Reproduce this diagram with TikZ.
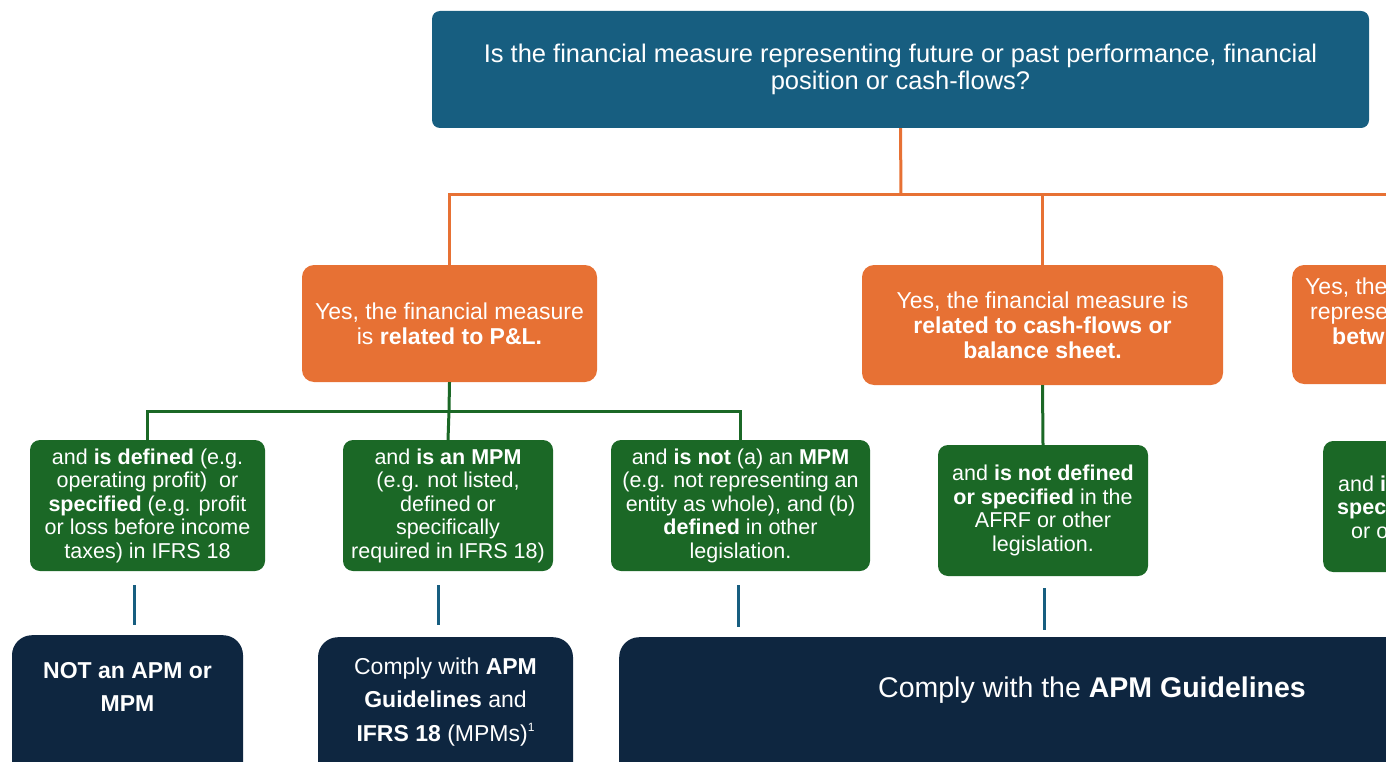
\documentclass[tikz,border=0pt]{standalone}
\usepackage{fontspec}
\setmainfont{Liberation Sans}
\definecolor{qblue}{RGB}{23,94,128}
\definecolor{yesorange}{RGB}{231,113,52}
\definecolor{andgreen}{RGB}{27,104,38}
\definecolor{endnavy}{RGB}{14,38,64}
\tikzset{
  qbox/.style={fill=qblue,rounded corners=8pt,text=white,align=center,inner sep=0pt,font=\fontsize{25.5}{27}\selectfont},
  yesbox/.style={fill=yesorange,rounded corners=12pt,text=white,align=center,inner sep=0pt,font=\fontsize{23}{25}\selectfont},
  andbox/.style={fill=andgreen,rounded corners=10pt,text=white,align=center,inner sep=0pt,font=\fontsize{21.5}{23.5}\selectfont},
  endbox/.style={fill=endnavy,rounded corners=20pt,inner sep=0pt},
  endtext/.style={text=white,align=center,font=\fontsize{23}{33.5}\selectfont},
  yesline/.style={draw=yesorange,line width=3pt},
  andline/.style={draw=andgreen,line width=3pt},
  tickline/.style={draw=qblue,line width=3pt},
}
\begin{document}
\begin{tikzpicture}[x=1pt,y=-1pt]
\useasboundingbox (0,0) rectangle (1386,762);
\clip (0,0) rectangle (1386,762);
% question
\node[qbox,minimum width=937pt,minimum height=117pt] (q) at (900.5,69.5)
  {Is the financial measure representing future or past performance, financial\\position or cash-flows?};
% yes boxes
\node[yesbox,minimum width=295pt,minimum height=117pt] (pl) at (449.5,323.5)
  {Yes, the financial measure\\is \textbf{related to P\&L.}};
\node[yesbox,minimum width=361pt,minimum height=120pt] (cf) at (1042.5,325)
  {Yes, the financial measure is\\\textbf{related to cash-flows or}\\\textbf{balance sheet.}};
\node[yesbox,minimum width=320pt,minimum height=119pt,anchor=west] (rx) at (1292,324.5) {};
\node[anchor=west,text=white,align=left,inner sep=0pt,font=\fontsize{23}{25}\selectfont] (rxt) at (1305,311)
  {Yes, the\\\hspace*{5pt}represe\\\hspace*{27pt}\textbf{betw}};
% and boxes
\node[andbox,minimum width=235pt,minimum height=131pt] (g1) at (147.5,505.5)
  {and \textbf{is defined} (e.g.\\operating profit)~ or\\\textbf{specified} (e.g. profit\\or loss before income\\taxes) in IFRS 18};
\node[andbox,minimum width=210pt,minimum height=131pt] (g2) at (448,505.5)
  {and \textbf{is an MPM}\\(e.g. not listed,\\defined or\\specifically\\required in IFRS 18)};
\node[andbox,minimum width=259pt,minimum height=131pt] (g3) at (740.5,505.5)
  {and \textbf{is not} (a) an \textbf{MPM}\\(e.g. not representing an\\entity as whole), and (b)\\\textbf{defined} in other\\legislation.};
\node[andbox,minimum width=210pt,minimum height=131pt] (g4) at (1043,510.5)
  {and \textbf{is not defined}\\\textbf{or specified} in the\\AFRF or other\\legislation.};
\node[andbox,minimum width=200pt,minimum height=131pt,anchor=west] (g5) at (1323,506.5) {};
\node[anchor=west,text=white,align=left,inner sep=0pt,font=\fontsize{21.5}{23.5}\selectfont] (g5t) at (1337,507)
  {\hspace*{1pt}and \textbf{i}\\\textbf{spec}\\\hspace*{14pt}or o};
% end boxes
\node[endbox,minimum width=231pt,minimum height=170pt,anchor=north] (d1) at (127.5,635) {};
\node[endtext] (d1t) at (127.5,687) {\textbf{NOT an APM or}\\\textbf{MPM}};
\node[endbox,minimum width=255pt,minimum height=170pt,anchor=north] (d2) at (445.5,637) {};
\node[endtext] (d2t) at (445.5,702)
  {Comply with \textbf{APM}\\\textbf{Guidelines} and\\\textbf{IFRS 18} (MPMs)\raisebox{10pt}{\fontsize{12}{12}\selectfont 1}};
\node[endbox,minimum width=900pt,minimum height=170pt,anchor=north west] (d3) at (619,637) {};
\node[endtext,font=\fontsize{28.5}{33}\selectfont] (d3t) at (1092,690) {Comply with the \textbf{APM Guidelines}};
% connectors
\coordinate (split) at (901,195);
\coordinate (redge) at (1390,195);
\coordinate (gsplit) at (449,411);
\draw[yesline] (q.south) -- (split);
\draw[yesline] (pl.north) |- (redge);
\draw[yesline] (cf.north) -- (cf.north |- split);
\draw[andline] (pl.south) -- (gsplit);
\draw[andline] (g1.north) |- (gsplit) -| (g3.north);
\draw[andline] (gsplit) -- (g2.north);
\draw[andline] (cf.south) -- (g4.north);
\foreach \i/\x/\a/\b in {1/134/585/625,2/438/585/625,3/738/585/627,4/1044/588/630}{
  \coordinate (t\i a) at (\x,\a);
  \coordinate (t\i b) at (\x,\b);
  \draw[tickline] (t\i a) -- (t\i b);
}
\end{tikzpicture}
\end{document}
